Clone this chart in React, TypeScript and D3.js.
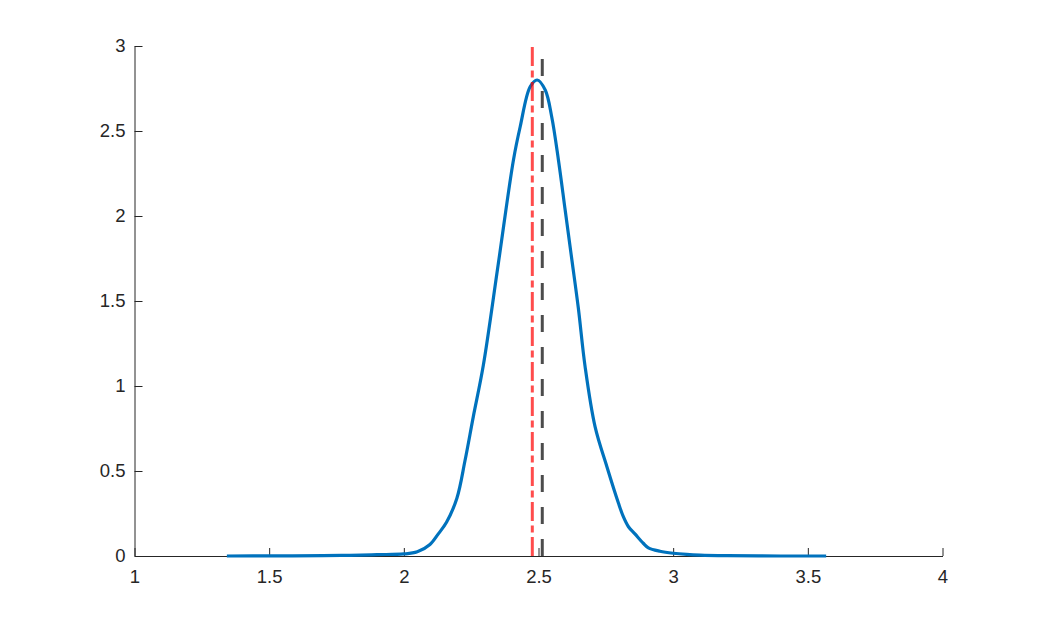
import React, { useRef, useEffect } from 'react';
import * as d3 from 'd3';

// density curve
const densityX = [1.343, 1.5, 1.7, 1.8, 1.9, 2.0, 2.05, 2.097, 2.128, 2.159, 2.197, 2.227, 2.258, 2.295, 2.351, 2.407, 2.432, 2.469, 2.495, 2.525, 2.549, 2.574, 2.599, 2.624, 2.648, 2.673, 2.71, 2.754, 2.797, 2.815, 2.834, 2.858, 2.889, 2.908, 2.951, 3.0, 3.05, 3.1, 3.2, 3.4, 3.568];
const densityY = [0.0, 0.0005, 0.002, 0.004, 0.008, 0.012, 0.025, 0.068, 0.13, 0.2, 0.34, 0.56, 0.82, 1.12, 1.722, 2.33, 2.525, 2.76, 2.8, 2.741, 2.584, 2.33, 2.035, 1.741, 1.457, 1.114, 0.761, 0.525, 0.31, 0.231, 0.172, 0.13, 0.075, 0.048, 0.028, 0.016, 0.009, 0.005, 0.002, 0.0, 0.0];

// vertical reference lines
const redLineX = 2.477;
const blackLineX = 2.514;

const xTicks = [1, 1.5, 2, 2.5, 3, 3.5, 4];
const yTicks = [0, 0.5, 1, 1.5, 2, 2.5, 3];

const App = () => {
    const svgRef = useRef(null);

    useEffect(() => {
        const width = 1042;
        const height = 625;
        const margin = { top: 46, right: 99.5, bottom: 69, left: 134.5 };
        const axisColor = '#262626';
        const font = '"Liberation Sans", Arial, Helvetica, sans-serif';

        const svg = d3.select(svgRef.current)
            .attr('width', width)
            .attr('height', height)
            .style('background', '#ffffff');
        svg.selectAll('*').remove();

        const xScale = d3.scaleLinear()
            .domain([1, 4])
            .range([margin.left, width - margin.right]);
        const yScale = d3.scaleLinear()
            .domain([0, 3])
            .range([height - margin.bottom, margin.top]);

        // axes, ticks pointing inside like matlab
        const xAxis = d3.axisBottom(xScale)
            .tickValues(xTicks)
            .tickSizeInner(-8)
            .tickSizeOuter(0)
            .tickPadding(14)
            .tickFormat(d3.format('~g'));
        const yAxis = d3.axisLeft(yScale)
            .tickValues(yTicks)
            .tickSizeInner(-8)
            .tickSizeOuter(0)
            .tickPadding(9)
            .tickFormat(d3.format('~g'));

        const gx = svg.append('g')
            .attr('transform', `translate(0, ${height - margin.bottom})`)
            .call(xAxis);
        const gy = svg.append('g')
            .attr('transform', `translate(${margin.left}, 0)`)
            .call(yAxis);

        [gx, gy].forEach((g) => {
            g.attr('font-size', null).attr('font-family', null);
            g.select('.domain').attr('stroke', axisColor).attr('stroke-width', 1);
            g.selectAll('.tick line').attr('stroke', axisColor).attr('stroke-width', 1);
            g.selectAll('.tick text')
                .attr('fill', axisColor)
                .style('font-family', font)
                .style('font-size', '18.5px');
        });
        gx.selectAll('.tick text').attr('dy', '0.71em');

        // density curve
        const pts = densityX.map((x, i) => [x, densityY[i]]);
        const line = d3.line()
            .x((d) => xScale(d[0]))
            .y((d) => yScale(d[1]))
            .curve(d3.curveCatmullRom.alpha(0.5));

        svg.append('path')
            .datum(pts)
            .attr('fill', 'none')
            .attr('stroke', '#0072BD')
            .attr('stroke-width', 3.2)
            .attr('stroke-linejoin', 'round')
            .attr('d', line);

        // red dash-dot line
        svg.append('line')
            .attr('x1', xScale(redLineX))
            .attr('x2', xScale(redLineX))
            .attr('y1', yScale(0))
            .attr('y2', yScale(3))
            .attr('stroke', '#ff0000')
            .attr('stroke-opacity', 0.7)
            .attr('stroke-width', 3)
            .attr('stroke-dasharray', '19,4.5,7,4.5');

        // black dashed line
        svg.append('line')
            .attr('x1', xScale(blackLineX))
            .attr('x2', xScale(blackLineX))
            .attr('y1', yScale(0))
            .attr('y2', yScale(3))
            .attr('stroke', '#000000')
            .attr('stroke-opacity', 0.7)
            .attr('stroke-width', 3)
            .attr('stroke-dasharray', '17,15');
    }, []);

    return (
        <div style={{ position: 'absolute', left: 0, top: 0 }}>
            <svg ref={svgRef}></svg>
        </div>
    );
};

export default App;
